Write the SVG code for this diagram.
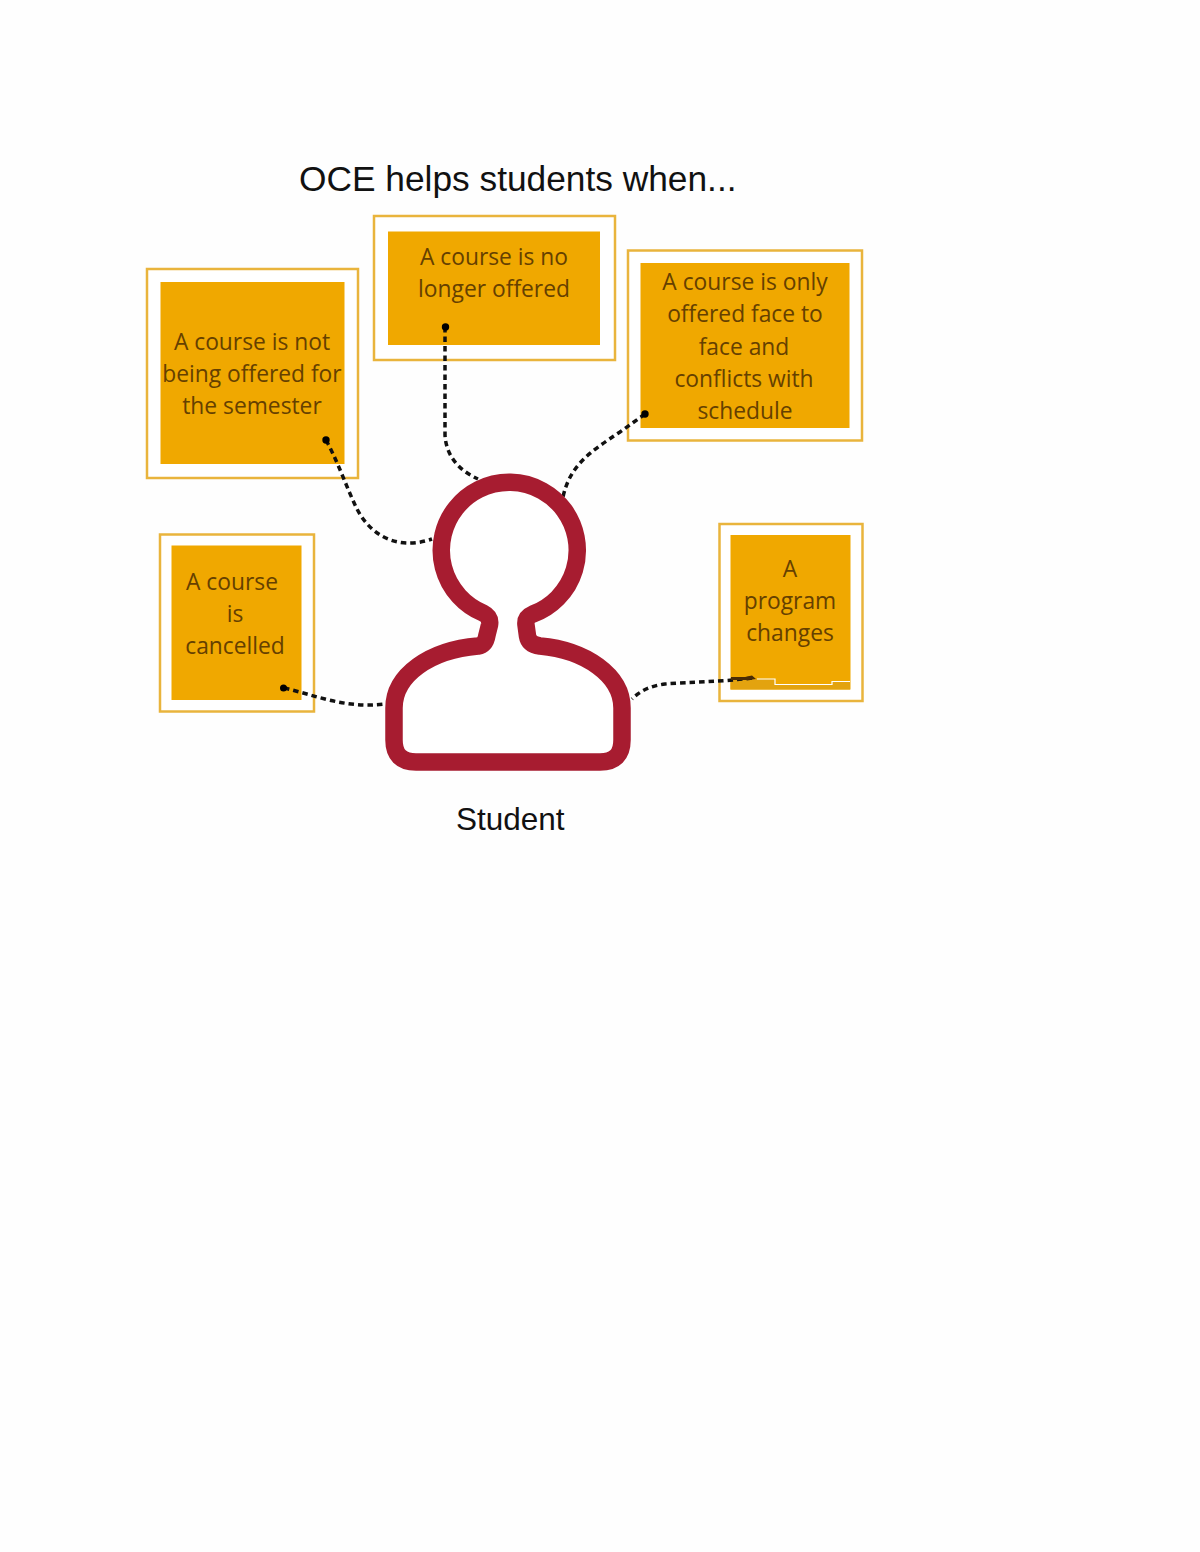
<svg xmlns="http://www.w3.org/2000/svg" width="1200" height="1552" viewBox="0 0 1200 1552">
<style>
.frame{fill:#fff;stroke:#e9b43c;stroke-width:2.5}
.fill{fill:#f0a800}
.lbl{font-family:"Open Sans",sans-serif;font-size:22.8px;fill:#654000;text-anchor:middle}
.head{font-family:"Liberation Sans",Arial,sans-serif;fill:#111}
.conn{fill:none;stroke:#111;stroke-width:3.5;stroke-dasharray:5.500 4}
.dot{fill:#000}
</style>
<rect width="1200" height="1552" fill="#fefefe"/>
<text id="title" class="head" x="299" y="191" font-size="35.300">OCE helps students when...</text>
<g id="node-not-offered">
<rect class="frame" x="147" y="269" width="211" height="209"/>
<rect class="fill" x="160.500" y="282" width="184" height="182"/>
<text class="lbl" x="252" y="350">A course is not</text>
<text class="lbl" x="252" y="382">being offered for</text>
<text class="lbl" x="252" y="414">the semester</text>
</g>
<g id="node-no-longer">
<rect class="frame" x="374" y="216" width="241" height="144"/>
<rect class="fill" x="388" y="231.500" width="212" height="113.500"/>
<text class="lbl" x="494" y="265">A course is no</text>
<text class="lbl" x="494" y="297">longer offered</text>
</g>
<g id="node-face-to-face">
<rect class="frame" x="628" y="250.500" width="234" height="190"/>
<rect class="fill" x="640.500" y="263" width="209" height="165"/>
<text class="lbl" x="745" y="290">A course is only</text>
<text class="lbl" x="745" y="322">offered face to</text>
<text class="lbl" x="744" y="355">face and</text>
<text class="lbl" x="744" y="387">conflicts with</text>
<text class="lbl" x="745" y="419">schedule</text>
</g>
<g id="node-cancelled">
<rect class="frame" x="160" y="534.500" width="154" height="177"/>
<rect class="fill" x="171.500" y="545.500" width="130" height="154.500"/>
<text class="lbl" x="232" y="590">A course</text>
<text class="lbl" x="235" y="622">is</text>
<text class="lbl" x="235" y="654">cancelled</text>
</g>
<g id="node-program">
<rect class="frame" x="719.500" y="524" width="143" height="177"/>
<rect class="fill" x="730.500" y="535" width="120" height="154.500"/>
<path d="M757,679H775V684.500H832V681.500H850V689.500H730.500V679Z" fill="#e3a30f"/>
<path d="M757,679H775V684.500H832V681.500H850" fill="none" stroke="#fff" stroke-width="1.200"/>
<text class="lbl" x="790" y="577">A</text>
<text class="lbl" x="790" y="609">program</text>
<text class="lbl" x="790" y="641">changes</text>
</g>
<g id="connectors">
<path class="conn" d="M326,440C338,462 346,486 356,507C368,532 394,552 432,539"/>
<path class="conn" d="M445,327L445,435C446,455 458,470 478,479"/>
<path class="conn" d="M645,414L620,432C590,452 570,465 563,497"/>
<path class="conn" d="M284,688C315,695 345,709 385,704"/>
<path class="conn" d="M752,678C720,682 690,682 665,684C650,686 640,691 632,699"/>
<circle class="dot" cx="326" cy="440" r="3.700"/>
<circle class="dot" cx="445.500" cy="327" r="3.700"/>
<circle class="dot" cx="645" cy="414" r="3.700"/>
<circle class="dot" cx="283.500" cy="688" r="3.500"/>
<path d="M731,677H745L752,675.500L756,679L748,680H731Z" fill="#4a2c05"/>
</g>
<g id="node-student">
<path d="M483,613A68,68 0 1 1 533,614C526,617 525.500,621 526,625L527.500,636C528.500,642 533,645 540,646C585,650 622,675 622,708V740Q622,762 600,762H416Q394,762 394,740V708C394,675 430,650 478,646C484,645 486,641 487,635L489.500,625C490.500,619 489,616 483,613Z" fill="#fff" stroke="#a71c30" stroke-width="17.500" stroke-linejoin="round"/>
<text class="head" x="456" y="830" font-size="31.500">Student</text>
</g>
</svg>
